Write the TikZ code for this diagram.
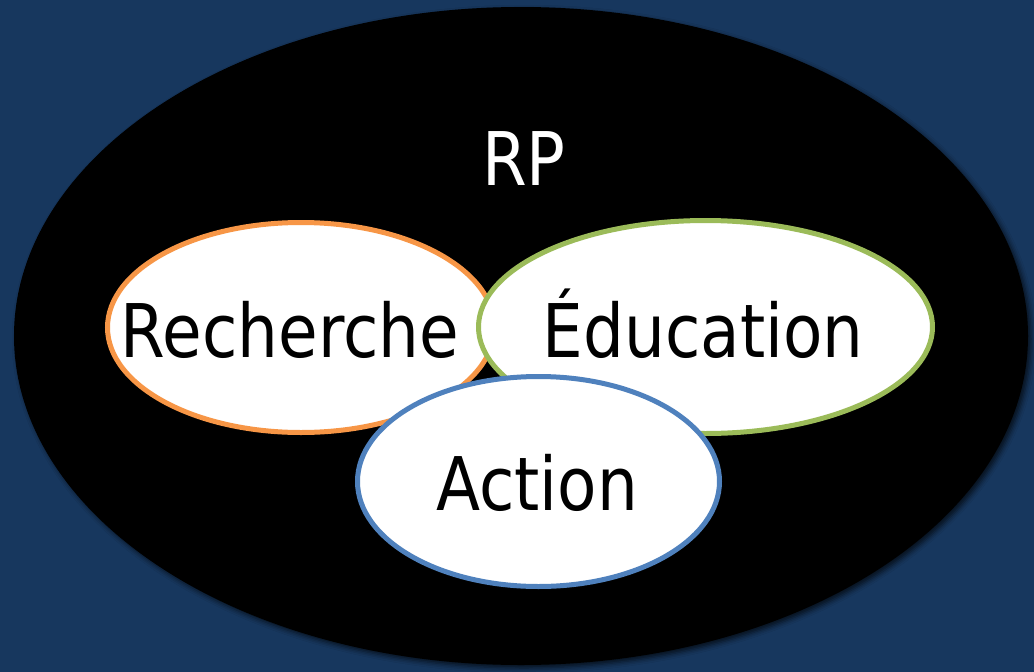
\documentclass[tikz,border=0pt]{standalone}
\usepackage{fontspec}
\setmainfont{DejaVu Sans}[FakeStretch=0.87]
\usetikzlibrary{shadows.blur}
\definecolor{bgblue}{HTML}{17375E}
\definecolor{rechorange}{HTML}{F79646}
\definecolor{edugreen}{HTML}{9BBB59}
\definecolor{actblue}{HTML}{4F81BD}
\tikzset{
  ring/.style={fill=white,line width=5pt},
  lbl/.style={anchor=base,inner sep=0pt,font=\fontsize{74}{80}\selectfont}
}
\begin{document}
\begin{tikzpicture}[x=1pt,y=-1pt]
\fill[bgblue] (0,0) rectangle (1034,672);
\useasboundingbox (0,0) rectangle (1034,672);
% outer RP field
\fill[black,blur shadow={shadow xshift=3pt,shadow yshift=-3pt,shadow blur radius=5pt,shadow opacity=70}] (521,336) ellipse (507 and 329);
\node[lbl,text=white] (rp) at (524,185) {RP};
% the three circles
\draw[ring,draw=rechorange] (301,327.5) ellipse (193.5 and 105);
\draw[ring,draw=edugreen] (705.5,327) ellipse (227 and 106.5);
\draw[ring,draw=actblue] (538.5,481.5) ellipse (181 and 105);
\node[lbl] (rech) at (290,357) {Recherche};
\node[lbl] (edu) at (703,357) {Éducation};
\node[lbl] (act) at (537,510) {Action};
\end{tikzpicture}
\end{document}
